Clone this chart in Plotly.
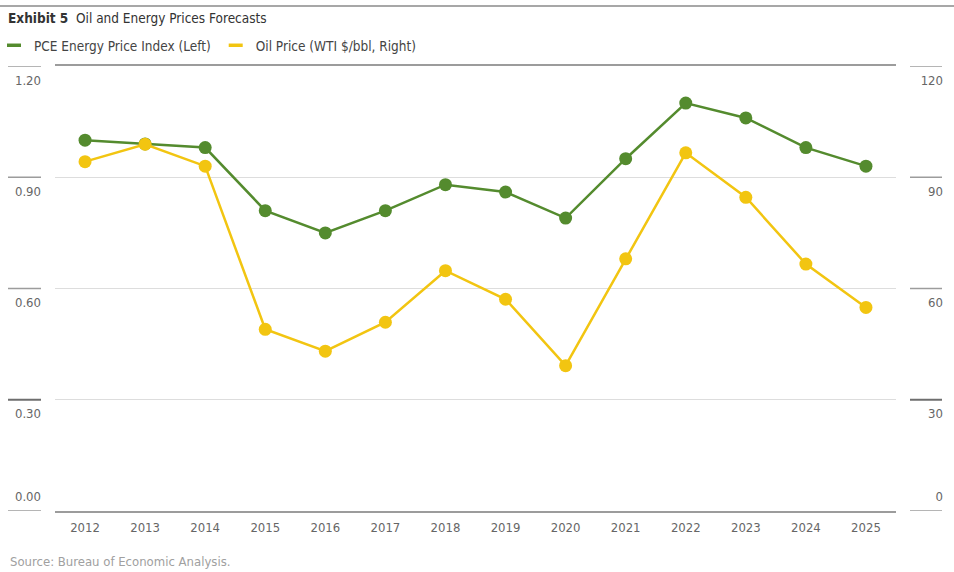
import plotly.graph_objects as go

years = ["2012", "2013", "2014", "2015", "2016", "2017", "2018", "2019",
         "2020", "2021", "2022", "2023", "2024", "2025"]
pce_index = [1.00, 0.99, 0.98, 0.81, 0.75, 0.81, 0.88, 0.86,
             0.79, 0.95, 1.10, 1.06, 0.98, 0.93]
oil_price = [94.2, 98.9, 93.0, 49.0, 43.1, 50.9, 64.8, 57.1,
             39.2, 68.0, 96.6, 84.6, 66.6, 54.9]

left_ticks = [0.3, 0.6, 0.9, 1.2]
right_ticks = [30, 60, 90, 120]

GREEN = "#548B2E"
YELLOW = "#F2C511"
FONT = "DejaVu Sans Condensed, DejaVu Sans, sans-serif"

W, H = 954, 572
ML, MR, MT, MB = 8, 8, 66, 61
PW = W - ML - MR
PH = H - MT - MB


def px_x(p):
    return (p - ML) / PW


def px_y(p):
    return (H - MB - p) / PH


fig = go.Figure()

fig.add_trace(go.Scatter(
    x=years, y=pce_index, mode="lines+markers", name="PCE Energy Price Index (Left)",
    line=dict(color=GREEN, width=2.5), marker=dict(size=13, color=GREEN),
    showlegend=False, yaxis="y"))
fig.add_trace(go.Scatter(
    x=years, y=oil_price, mode="lines+markers", name="Oil Price (WTI $/bbl, Right)",
    line=dict(color=YELLOW, width=2.5), marker=dict(size=13, color=YELLOW),
    showlegend=False, yaxis="y2"))

# legend entries (line swatches only)
for nm, col in [("PCE Energy Price Index (Left)", GREEN), ("Oil Price (WTI $/bbl, Right)", YELLOW)]:
    fig.add_trace(go.Scatter(
        x=[None], y=[None], mode="markers", name=nm,
        marker=dict(symbol="line-ew", size=10, line=dict(color=col, width=3.5)),
        showlegend=True))

x0, x1 = px_x(55), px_x(896)

axis_font = dict(family=FONT, size=13, color="#666666")

shapes = []
# short tick lines at left and right
for v in [0.0] + left_ticks:
    dark = abs(v - 0.3) < 1e-9
    for a, b in [(px_x(8), px_x(41)), (px_x(910), px_x(942))]:
        shapes.append(dict(type="line", xref="paper", yref="y", x0=a, x1=b, y0=v, y1=v,
                           line=dict(color="#6e6e6e" if dark else "#9c9c9c",
                                     width=2 if dark else 1.5)))
# top rule
shapes.append(dict(type="line", xref="paper", yref="paper", x0=px_x(0), x1=px_x(954),
                   y0=px_y(6), y1=px_y(6), line=dict(color="#8a8a8a", width=1.5)))

fig.update_layout(
    width=W, height=H,
    margin=dict(l=ML, r=MR, t=MT, b=MB, autoexpand=False),
    paper_bgcolor="white", plot_bgcolor="white",
    font=dict(family=FONT, size=13, color="#555555"),
    title=dict(text="<b>Exhibit 5</b>  Oil and Energy Prices Forecasts",
               xref="container", yref="container", x=8 / W, y=1 - 18 / H,
               xanchor="left", yanchor="middle",
               font=dict(family=FONT, size=13.5, color="#333333")),
    legend=dict(orientation="h", xref="paper", yref="container",
                x=px_x(-6), y=1 - 30 / H, xanchor="left", yanchor="top",
                font=dict(family=FONT, size=13.5, color="#444444"),
                itemwidth=30, tracegroupgap=0, bgcolor="rgba(0,0,0,0)"),
    xaxis=dict(domain=[x0, x1], type="category", range=[-0.5, 13.5],
               showgrid=False, showline=True, mirror=True, linecolor="#9c9c9c", linewidth=1.5,
               ticks="", tickfont=axis_font, ticklabelstandoff=4, anchor="y"),
    yaxis=dict(range=[0, 1.2], tickvals=left_ticks, tickformat=".2f",
               anchor="free", position=x0, side="left",
               ticklabelposition="outside bottom", ticklabelstandoff=14, ticklabelshift=5,
               showgrid=True, gridcolor="#dddddd", gridwidth=1.2,
               zeroline=False, showline=False, ticks="", tickfont=axis_font),
    yaxis2=dict(range=[0, 120], tickvals=right_ticks, overlaying="y",
                anchor="free", position=min(1, px_x(943)), side="left",
                ticklabelposition="outside bottom", ticklabelstandoff=0, ticklabelshift=5,
                showgrid=False, zeroline=False, showline=False, ticks="", tickfont=axis_font),
    yaxis3=dict(range=[0, 1.2], tickvals=[0], tickformat=".2f", overlaying="y",
                anchor="free", position=x0, side="left",
                ticklabelposition="outside top", ticklabelstandoff=14, ticklabelshift=-5,
                showgrid=False, zeroline=False, showline=False, ticks="", tickfont=axis_font),
    yaxis4=dict(range=[0, 120], tickvals=[0], overlaying="y",
                anchor="free", position=min(1, px_x(943)), side="left",
                ticklabelposition="outside top", ticklabelstandoff=0, ticklabelshift=-5,
                showgrid=False, zeroline=False, showline=False, ticks="", tickfont=axis_font),
    shapes=shapes,
    annotations=[dict(text="Source: Bureau of Economic Analysis.", xref="paper", yref="paper",
                      x=px_x(8), y=px_y(561), xanchor="left", yanchor="middle", showarrow=False,
                      font=dict(family=FONT, size=13, color="#a0a0a0"))],
)

# dummy traces to activate the auxiliary axes
fig.add_trace(go.Scatter(x=[None], y=[None], yaxis="y3", showlegend=False, hoverinfo="skip"))
fig.add_trace(go.Scatter(x=[None], y=[None], yaxis="y4", showlegend=False, hoverinfo="skip"))

fig.write_html("out.html", config={"displayModeBar": False},
               post_script="document.body.style.margin='0';")
